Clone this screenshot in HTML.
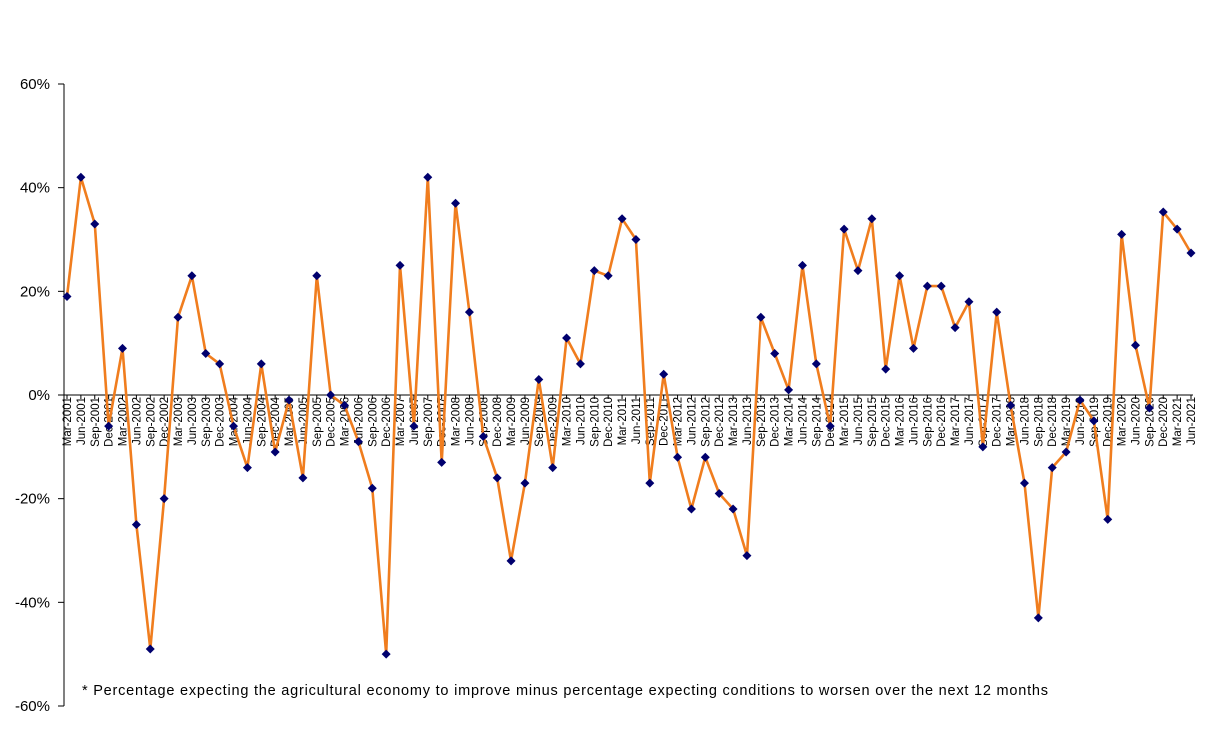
<!DOCTYPE html>
<html><head><meta charset="utf-8"><style>
body{margin:0;background:#fff;}
svg{display:block;font-family:"Liberation Sans",Arial,sans-serif;}
</style></head><body>
<svg id="chart" width="1208" height="733" viewBox="0 0 1208 733" xmlns="http://www.w3.org/2000/svg">
<rect width="1208" height="733" fill="#fff"/>
<g id="yaxis"></g>
<g id="xaxis"></g>
<g id="series"></g>
<text x="82" y="695" font-size="14.5" fill="#000" textLength="966" lengthAdjust="spacing">* Percentage expecting the agricultural  economy to improve minus percentage expecting conditions to worsen over the next 12 months</text>
</svg>
<script>
const quarters=["Mar","Jun","Sep","Dec"];
const values=[19,42,33,-6,9,-25,-49,-20,15,23,8,6,-6,-14,6,-11,-1,-16,23,0,-2,-9,-18,-50,25,-6,42,-13,37,16,-8,-16,-32,-17,3,-14,11,6,24,23,34,30,-17,4,-12,-22,-12,-19,-22,-31,15,8,1,25,6,-6,32,24,34,5,23,9,21,21,13,18,-10,16,-2,-17,-43,-14,-11,-1,-5,-24,31,9.6,-2.5,35.3,32,27.4];
const yTicks=[60,40,20,0,-20,-40,-60];
const categories=[];
for(let i=0;i<values.length;i++){categories.push(quarters[i%4]+"-"+(2001+Math.floor(i/4)));}
const NS="http://www.w3.org/2000/svg";
const x0=67,x1=1191,yTop=84,yBot=706;
function xs(i){return x0+(x1-x0)*i/(values.length-1);}
function ys(v){return yTop+(60-v)/120*(yBot-yTop);}
function mk(tag,attrs,parent){const e=document.createElementNS(NS,tag);for(const k in attrs)e.setAttribute(k,attrs[k]);parent.appendChild(e);return e;}
const ya=document.getElementById('yaxis'),xa=document.getElementById('xaxis'),sr=document.getElementById('series');
const axl=mk('line',{x1:64,y1:yTop,x2:64,y2:yBot,stroke:'#000','stroke-width':1},ya);


yTicks.forEach(t=>{
  const tk=mk('line',{x1:58,y1:ys(t),x2:64,y2:ys(t),stroke:'#000'},ya);
  
  
  const tx=mk('text',{x:50,y:ys(t)+5,'text-anchor':'end','font-size':15},ya);
  tx.textContent=t+'%';
  
  
});
const zl=mk('line',{x1:64,y1:ys(0),x2:1193,y2:ys(0),stroke:'#000'},xa);


categories.forEach((c,i)=>{
  const x=xs(i);
  const tk=mk('line',{x1:x,y1:ys(0),x2:x,y2:ys(0)+4,stroke:'#000'},xa);
  
  
  const tx=mk('text',{x:0,y:0,'text-anchor':'end','font-size':11.5,transform:`translate(${x+4},${ys(0)+2}) rotate(-90)`},xa);
  tx.textContent=c;
  
  
});
const pts=values.map((v,i)=>xs(i).toFixed(1)+','+ys(v).toFixed(1)).join(' ');
const pl=mk('polyline',{points:pts,fill:'none',stroke:'#F07D1E','stroke-width':2.6,'stroke-linejoin':'round'},sr);


values.forEach((v,i)=>{
  const x=xs(i),y=ys(v),s=4.5;
  const p=mk('polygon',{points:`${x},${y-s} ${x+s},${y} ${x},${y+s} ${x-s},${y}`,fill:'#00006E'},sr);
  
  
});
</script>
</body></html>
